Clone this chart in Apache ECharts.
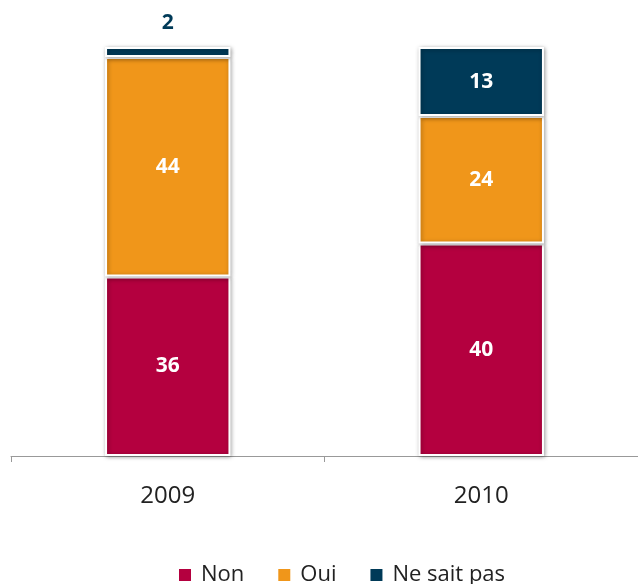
<!DOCTYPE html>
<html>
<head>
<meta charset="utf-8">
<script src="https://cdn.jsdelivr.net/npm/echarts@6/dist/echarts.min.js"></script>
<style>
    html, body { margin: 0; padding: 0; background: #fff; }
    #chart { width: 638px; height: 584px; }
</style>
</head>
<body>
<div id="chart"></div>
<script>
// answers per year (raw values, each bar is drawn as 100%)
const years = ['2009', '2010']
const non = [36, 40]
const oui = [44, 24]
const nsp = [2, 13]
const seriesNames = ['Non', 'Oui', 'Ne sait pas']
const colors = ['#B4003F', '#F0961A', '#003A58']

const totals = years.map((y, i) => non[i] + oui[i] + nsp[i])
const share = (arr) => arr.map((v, i) => ({ value: v / totals[i] * 100, raw: v }))

const graph = echarts.init(document.getElementById('chart'), null, { renderer: 'canvas' })

const labelStyle = {
    show: true,
    position: 'inside',
    color: '#fff',
    fontFamily: 'Open Sans',
    fontWeight: 'bold',
    fontSize: 21,
    formatter: (p) => p.data.raw
}

const itemStyle = (c) => ({
    color: c,
    borderColor: '#fff',
    borderWidth: 2,
    shadowBlur: 4,
    shadowColor: 'rgba(0,0,0,0.35)',
    shadowOffsetX: 1,
    shadowOffsetY: 1
})

let nspData = share(nsp)
// the tiny 2009 segment carries its label above the bar
nspData[0].label = { position: 'top', color: '#003A58', distance: 13 }

const options = {
    animation: false,
    grid: { left: 11, right: 0, top: 47, bottom: 128 },
    legend: {
        top: 564,
        left: 177,
        padding: 0,
        itemWidth: 14,
        itemHeight: 14,
        itemGap: 32,
        icon: 'rect',
        textStyle: { fontFamily: 'Open Sans', fontSize: 22, color: '#222', padding: [0, 0, 0, 4] },
        data: seriesNames
    },
    xAxis: {
        type: 'category',
        data: years,
        axisLine: { lineStyle: { color: '#999', width: 1 } },
        axisTick: { show: true, length: 6, lineStyle: { color: '#999' } },
        axisLabel: { fontFamily: 'Open Sans', fontSize: 24, color: '#222', margin: 28 }
    },
    yAxis: {
        type: 'value',
        min: 0,
        max: 100,
        show: false
    },
    series: [
        { name: seriesNames[0], type: 'bar', stack: 'a', barWidth: '40%', data: share(non), itemStyle: itemStyle(colors[0]), label: labelStyle },
        { name: seriesNames[1], type: 'bar', stack: 'a', barWidth: '40%', data: share(oui), itemStyle: itemStyle(colors[1]), label: labelStyle },
        { name: seriesNames[2], type: 'bar', stack: 'a', barWidth: '40%', data: nspData, itemStyle: itemStyle(colors[2]), label: labelStyle }
    ]
}

graph.setOption(options)
</script>
</body>
</html>
